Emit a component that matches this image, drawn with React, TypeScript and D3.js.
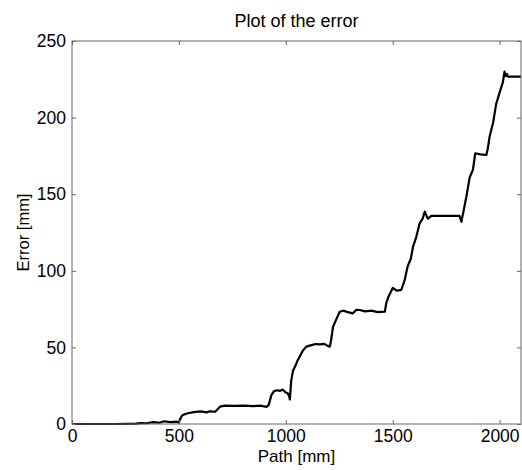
import { useRef, useEffect } from 'react';
import * as d3 from 'd3';

const pathMm = [
  0, 100, 200, 300, 320, 350, 380, 410, 430, 460, 489, 500, 505, 515, 530, 542,
  570, 600, 630, 645, 670, 692, 715, 760, 800, 850, 880, 910, 920, 933, 945, 960,
  972, 985, 1000, 1009, 1015, 1019, 1025, 1034, 1045, 1055, 1065, 1080, 1096, 1120,
  1140, 1159, 1180, 1196, 1206, 1212, 1221, 1235, 1252, 1270, 1290, 1313, 1330,
  1346, 1370, 1400, 1430, 1463, 1470, 1480, 1500, 1520, 1540, 1556, 1570, 1585, 1595,
  1610, 1626, 1640, 1650, 1658, 1665, 1680, 1720, 1760, 1800, 1813, 1821, 1830,
  1844, 1860, 1875, 1886, 1910, 1938, 1945, 1953, 1970, 1984, 1995, 2008, 2015,
  2023, 2028, 2034, 2039, 2060, 2100,
];
const errorMm = [
  0, 0, 0, 0.2, 0.6, 0.5, 1.2, 0.8, 1.8, 1.2, 1.5, 1.0, 3.0, 5.5, 6.5, 7.0,
  7.8, 8.2, 7.6, 8.3, 8.0, 11.3, 12.0, 11.8, 12.0, 11.7, 12.0, 11.2, 12.5, 19.0, 21.5, 22.0,
  21.6, 22.5, 20.5, 20.0, 18.5, 16.0, 28.0, 35.0, 38.0, 41.5, 44.0, 48.0, 50.5, 51.5,
  52.2, 52.0, 52.3, 51.0, 50.5, 55.0, 63.5, 68.0, 73.3, 74.0, 73.0, 72.2, 74.5,
  74.4, 73.5, 74.0, 73.0, 73.3, 79.0, 83.0, 88.8, 87.0, 87.5, 94.0, 103.0, 108.0, 115.7,
  122.0, 131.0, 134.0, 138.6, 136.0, 134.0, 135.8, 135.8, 135.8, 135.8, 135.8, 132.0, 138.0,
  148.0, 161.0, 165.8, 176.7, 176.0, 175.6, 180.0, 187.5, 197.0, 209.0, 214.0, 220.0, 223.0,
  230.0, 227.0, 228.5, 226.7, 226.7, 226.7,
];
const xTicks = [0, 500, 1000, 1500, 2000];
const yTicks = [0, 50, 100, 150, 200, 250];

const App = () => {
  const svgRef = useRef<SVGSVGElement>(null);

  useEffect(() => {
    const width = 522;
    const height = 470;
    const margin = { top: 41, right: 1, bottom: 46, left: 72 };

    const svg = d3.select(svgRef.current);
    svg.selectAll('*').remove();

    const x = d3.scaleLinear().domain([0, 2100]).range([margin.left, width - margin.right]);
    const y = d3.scaleLinear().domain([0, 250]).range([height - margin.bottom, margin.top]);

    const font = 'Arial, "Liberation Sans", sans-serif';
    const axisColor = '#666';

    // line
    const line = d3.line<number>()
      .x((_, i) => x(pathMm[i]))
      .y(d => y(d));

    svg.append('path')
      .datum(errorMm)
      .attr('d', line)
      .attr('fill', 'none')
      .attr('stroke', '#000')
      .attr('stroke-width', 2.2)
      .attr('stroke-linejoin', 'round');

    // inward ticks on all four sides
    const tickLen = 4;
    const tx = (s: d3.Selection<SVGGElement, unknown, null, undefined>) => {
      s.selectAll('.domain').remove();
      s.selectAll('line').attr('stroke', axisColor);
      s.selectAll('text').attr('fill', '#000').style('font-family', font).style('font-size', '17.5px');
    };

    svg.append('g')
      .attr('transform', `translate(0,${height - margin.bottom})`)
      .call(d3.axisBottom(x).tickValues(xTicks).tickSize(-tickLen).tickPadding(6).tickFormat(d3.format('d')))
      .call(tx);

    svg.append('g')
      .attr('transform', `translate(0,${margin.top})`)
      .call(d3.axisTop(x).tickValues(xTicks).tickSize(-tickLen).tickFormat(() => ''))
      .call(tx);

    svg.append('g')
      .attr('transform', `translate(${margin.left},0)`)
      .call(d3.axisLeft(y).tickValues(yTicks).tickSize(-tickLen).tickPadding(6).tickFormat(d3.format('d')))
      .call(tx);

    svg.append('g')
      .attr('transform', `translate(${width - margin.right},0)`)
      .call(d3.axisRight(y).tickValues(yTicks).tickSize(-tickLen).tickFormat(() => ''))
      .call(tx);

    // box
    svg.append('rect')
      .attr('x', margin.left)
      .attr('y', margin.top)
      .attr('width', width - margin.right - margin.left)
      .attr('height', height - margin.bottom - margin.top)
      .attr('fill', 'none')
      .attr('stroke', axisColor)
      .attr('stroke-width', 1);

    // titles
    svg.append('text')
      .text('Plot of the error')
      .attr('x', (margin.left + width - margin.right) / 2)
      .attr('y', 26.5)
      .attr('text-anchor', 'middle')
      .style('font-family', font)
      .style('font-size', '18px');

    svg.append('text')
      .text('Path [mm]')
      .attr('x', (margin.left + width - margin.right) / 2)
      .attr('y', 462)
      .attr('text-anchor', 'middle')
      .style('font-family', font)
      .style('font-size', '17px');

    svg.append('text')
      .text('Error [mm]')
      .attr('transform', `translate(28.5,${(margin.top + height - margin.bottom) / 2}) rotate(-90)`)
      .attr('text-anchor', 'middle')
      .style('font-family', font)
      .style('font-size', '16.5px');
  }, []);

  return (
    <svg
      ref={svgRef}
      width={522}
      height={470}
      style={{ position: 'absolute', left: 0, top: 0, background: '#fff' }}
    />
  );
};

export default App;
